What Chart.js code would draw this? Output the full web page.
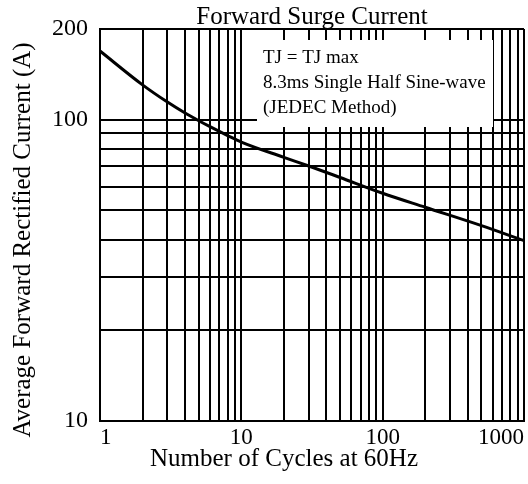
<!DOCTYPE html>
<html>
<head>
<meta charset="utf-8">
<script src="https://cdn.jsdelivr.net/npm/chart.js@4/dist/chart.umd.min.js"></script>
<style>
  html, body { margin: 0; padding: 0; background: #fff; }
  #wrap { width: 528px; height: 484px; }
</style>
</head>
<body>
<div id="wrap"><canvas id="surge" width="528" height="484"></canvas></div>
<script>
// ---------- dados
const cycles = [1, 2, 3, 4, 5, 6, 8, 10, 20, 30, 50, 100, 200, 500, 1000];
const current = [169, 130.5, 114.4, 105.2, 99.2, 94.8, 88.6, 84.3, 75, 70.2, 64.3, 57, 51.2, 44.5, 39.7];

const xGrid = [1, 2, 3, 4, 5, 6, 7, 8, 9, 10, 20, 30, 40, 50, 60, 70, 80, 90, 100,
               200, 300, 400, 500, 600, 700, 800, 900, 1000];
const xLabels = [1, 10, 100, 1000];
const yGrid = [10, 20, 30, 40, 50, 60, 70, 80, 90, 100, 200];
const yLabels = [10, 100, 200];

const chartTitle = 'Forward Surge Current';
const xTitle = 'Number of Cycles at 60Hz';
const yTitle = 'Average Forward Rectified Current (A)';
const noteLines = ['TJ = TJ max', '8.3ms Single Half Sine-wave', '(JEDEC Method)'];

const serif = '"Liberation Serif", "Times New Roman", serif';

// ---------- caixa de texto e títulos
const textPlugin = {
  id: 'textPlugin',
  beforeDatasetsDraw(chart) {
    const ctx = chart.ctx;
    const a = chart.chartArea;
    ctx.save();
    ctx.fillStyle = '#fff';
    ctx.fillRect(a.left + 157, a.top + 11, a.right - a.left - 157 - 31, 87);
    ctx.restore();
  },
  afterDraw(chart) {
    const ctx = chart.ctx;
    const a = chart.chartArea;
    ctx.save();
    ctx.fillStyle = '#000';
    ctx.textBaseline = 'alphabetic';
    ctx.textAlign = 'center';
    ctx.font = '25px ' + serif;
    ctx.fillText(chartTitle, (a.left + a.right) / 2, 24);
    ctx.fillText(xTitle, 284, 466);

    ctx.save();
    ctx.translate(23, 240);
    ctx.rotate(-Math.PI / 2);
    ctx.textBaseline = 'middle';
    ctx.fillText(yTitle, 0, 0);
    ctx.restore();

    ctx.textAlign = 'left';
    ctx.textBaseline = 'middle';
    ctx.font = '19px ' + serif;
    noteLines.forEach(function (t, i) {
      ctx.fillText(t, a.left + 163, a.top + 29 + i * 25);
    });
    ctx.restore();
  }
};

document.addEventListener('DOMContentLoaded', function () {
  const points = cycles.map(function (c, i) {
    return { x: c, y: current[i] };
  });

  new Chart(document.getElementById('surge'), {
    type: 'line',
    data: {
      datasets: [{
        data: points,
        borderColor: '#000',
        borderWidth: 3,
        pointRadius: 0,
        cubicInterpolationMode: 'monotone',
        fill: false
      }]
    },
    options: {
      responsive: false,
      animation: false,
      layout: { padding: { top: 29, right: 4, left: 0, bottom: 0 } },
      plugins: {
        legend: { display: false },
        title: { display: false },
        tooltip: { enabled: false }
      },
      scales: {
        x: {
          type: 'logarithmic',
          min: 1,
          max: 1000,
          afterBuildTicks: function (axis) {
            axis.ticks = xGrid.map(function (v) { return { value: v }; });
          },
          afterFit: function (axis) { axis.height = 63; },
          grid: { color: '#000', lineWidth: 2, drawTicks: false },
          border: { color: '#000', width: 2 },
          ticks: {
            autoSkip: false,
            maxRotation: 0,
            align: 'inner',
            padding: 3,
            color: '#000',
            font: { family: serif, size: 23 },
            callback: function (v) {
              return xLabels.indexOf(v) >= 0 ? String(v) : '';
            }
          }
        },
        y: {
          type: 'logarithmic',
          min: 10,
          max: 200,
          afterBuildTicks: function (axis) {
            axis.ticks = yGrid.map(function (v) { return { value: v }; });
          },
          afterFit: function (axis) { axis.width = 100; },
          grid: { color: '#000', lineWidth: 2, drawTicks: false },
          border: { color: '#000', width: 2 },
          ticks: {
            autoSkip: false,
            padding: 12,
            color: '#000',
            font: { family: serif, size: 24 },
            callback: function (v) {
              return yLabels.indexOf(v) >= 0 ? String(v) : '';
            }
          }
        }
      }
    },
    plugins: [textPlugin]
  });
});
</script>
</body>
</html>
